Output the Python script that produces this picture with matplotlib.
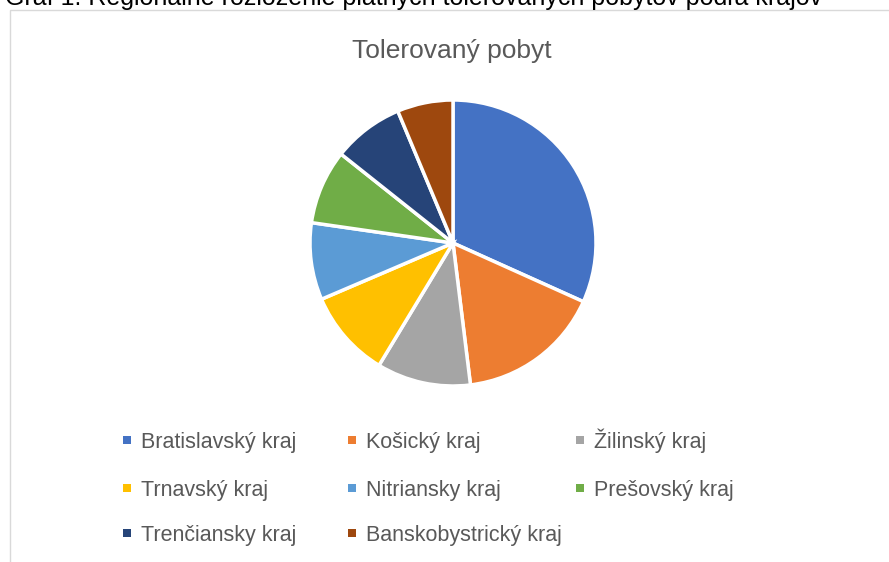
import matplotlib
matplotlib.use("Agg")
import matplotlib.pyplot as plt
from matplotlib.patches import Rectangle

categories = ["Bratislavský kraj", "Košický kraj", "Žilinský kraj", "Trnavský kraj",
              "Nitriansky kraj", "Prešovský kraj", "Trenčiansky kraj", "Banskobystrický kraj"]
values = [31.7, 16.3, 10.6, 9.9, 8.7, 8.4, 8.0, 6.3]
colors = ["#4472C4", "#ED7D31", "#A5A5A5", "#FFC000", "#5B9BD5", "#70AD47", "#264478", "#9E480E"]

plt.rcParams['font.family'] = ["Liberation Sans", 'DejaVu Sans']

W, H = 889, 562
fig = plt.figure(figsize=(W/100, H/100), dpi=100)

# chart border
fig.patches.append(Rectangle((10/W, -0.01), 1.0, (H-10)/H + 0.01, transform=fig.transFigure,
                             fill=False, edgecolor="#D9D9D9", linewidth=1.0))

# caption above the chart (cut off at the top edge, as in the source)
fig.text(5/W, 1 - 5/H, "Graf 1: Regionálne rozloženie platných tolerovaných pobytov podľa krajov",
         fontsize=18, va="baseline", ha="left", color="black")

fig.text(452/W, 1 - 58/H, "Tolerovaný pobyt", fontsize=19, ha="center", va="baseline", color="#595959")

cx, cy, r = 453, 243, 143
ax = fig.add_axes([(cx - r)/W, 1 - (cy + r)/H, 2*r/W, 2*r/H])
ax.pie(values, colors=colors, startangle=90, counterclock=False,
       wedgeprops=dict(edgecolor="white", linewidth=2.5))
ax.set_xlim(-1, 1); ax.set_ylim(-1, 1)
ax.set_aspect("equal")
ax.axis("off")

col_x = [127, 352, 580]
row_y = [440, 488, 533]
for i, (name, c) in enumerate(zip(categories, colors)):
    row, col = divmod(i, 3)
    x, y = col_x[col], row_y[row]
    fig.patches.append(Rectangle(((x - 4)/W, 1 - (y + 4)/H), 8/W, 8/H, transform=fig.transFigure,
                                 facecolor=c, edgecolor="none"))
    fig.text((x + 14)/W, 1 - (y + 8)/H, name, fontsize=15.5, ha="left", va="baseline", color="#595959")

fig.savefig("out.png", dpi=100)
